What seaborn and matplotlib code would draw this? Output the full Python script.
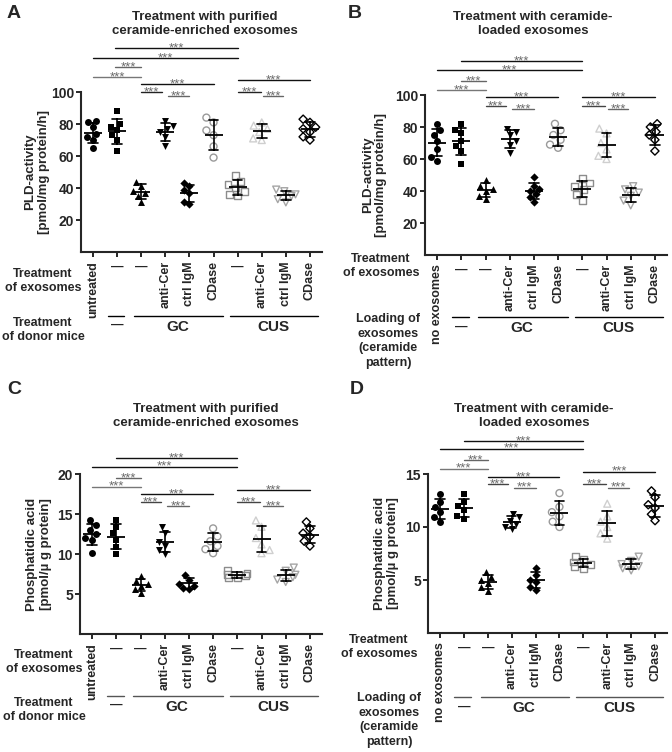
import numpy as np
import pandas as pd
import matplotlib
matplotlib.use('Agg')
import matplotlib.pyplot as plt
import matplotlib.transforms as mtransforms
import seaborn as sns

sns.set_style('ticks')
plt.rcParams['font.family'] = ['Liberation Sans', 'DejaVu Sans']

# groups in x order: control, control exosomes, GC exosomes (4), CUS exosomes (4)
groups = ['ctrl', 'none_exo', 'GC', 'GC_antiCer', 'GC_IgM', 'GC_CDase',
          'CUS', 'CUS_antiCer', 'CUS_IgM', 'CUS_CDase']
labels_purified = ['untreated', '—', '—', 'anti-Cer', 'ctrl IgM', 'CDase',
                   '—', 'anti-Cer', 'ctrl IgM', 'CDase']
labels_loaded = ['no exosomes', '—', '—', 'anti-Cer', 'ctrl IgM', 'CDase',
                 '—', 'anti-Cer', 'ctrl IgM', 'CDase']

# PLD activity [pmol/mg protein/h], purified exosomes (A)
pld_purified = [
    [82, 81, 78, 74, 72, 70, 65],
    [88, 80, 78, 76, 73, 70, 63],
    [44, 41, 38, 37, 35, 31],
    [82, 79, 77, 75, 72, 66],
    [43, 41, 39, 37, 31, 30],
    [84, 81, 76, 73, 66, 59],
    [48, 44, 42, 40, 38, 36, 35],
    [81, 79, 77, 75, 71, 70],
    [39, 38, 36, 35, 33, 31],
    [83, 81, 78, 77, 75, 72, 70],
]
# PLD activity, ceramide-loaded exosomes (B)
pld_loaded = [
    [82, 78, 75, 71, 66, 61, 59],
    [82, 78, 76, 71, 68, 65, 57],
    [47, 43, 41, 40, 37, 35],
    [79, 77, 75, 71, 69, 64],
    [49, 43, 41, 40, 38, 36, 33],
    [82, 78, 75, 72, 69, 67],
    [48, 45, 43, 41, 38, 34],
    [79, 76, 70, 66, 62, 60],
    [43, 41, 39, 37, 34, 31],
    [82, 80, 77, 75, 72, 65],
]
# phosphatidic acid [pmol/ug protein], purified exosomes (C)
pa_purified = [
    [14.2, 13.6, 13.0, 12.5, 12.0, 11.8, 10.1],
    [14.3, 13.4, 12.6, 11.8, 10.9, 10.0],
    [7.3, 6.6, 6.2, 6.0, 5.6, 5.1],
    [13.4, 12.6, 11.5, 11.0, 10.5, 10.0],
    [7.4, 6.8, 6.3, 6.0, 5.8, 5.6],
    [13.2, 12.2, 11.6, 11.0, 10.6, 10.1],
    [7.9, 7.6, 7.4, 7.3, 7.1, 7.0],
    [14.2, 13.4, 12.0, 11.2, 10.5, 10.1],
    [8.3, 7.9, 7.4, 7.1, 6.8, 6.5],
    [14.0, 13.2, 12.6, 12.2, 11.6, 11.0],
]
# phosphatidic acid, ceramide-loaded exosomes (D)
pa_loaded = [
    [13.1, 12.4, 11.9, 11.4, 10.9, 10.5],
    [13.1, 12.4, 12.0, 11.6, 11.0, 10.8],
    [5.8, 5.3, 5.0, 4.7, 4.3, 4.0],
    [11.2, 10.9, 10.6, 10.3, 10.0, 9.8],
    [6.1, 5.5, 5.0, 4.8, 4.3, 4.1],
    [13.2, 11.9, 11.4, 11.0, 10.5, 10.0],
    [7.2, 6.9, 6.7, 6.5, 6.3, 6.1],
    [12.2, 11.0, 10.5, 10.0, 9.4, 8.9],
    [7.2, 6.8, 6.5, 6.3, 6.1, 5.9],
    [13.4, 12.8, 12.1, 11.8, 11.2, 10.6],
]

# marker styles per group
markers = ['o', 's', '^', 'v', 'D', 'o', 's', '^', 'v', 'D']
hollow = [False] * 5 + [True] * 5
mcolors = ['black'] * 5 + ['#9a9a9a', '#8c8c8c', '#cfcfcf', '#a5a5a5', 'black']
msizes = [5, 5, 5, 5, 4.2, 5, 5, 5, 5, 4.2]

# significance bars: (x1, x2, y in data units, line colour)
sig_A = [(0.92, 6, 127.5, '#111'), (0, 6, 121, '#111'), (0.92, 2, 115.6, '#666'),
         (0, 2, 109.4, '#777'), (2, 5, 105, '#111'), (2, 2.85, 100, '#222'),
         (3.1, 4, 97.5, '#666'), (6, 9, 107.5, '#111'), (6, 6.95, 100, '#222'),
         (7.05, 7.9, 97.5, '#666')]
sig_B = [(1, 6, 121, '#111'), (0, 6, 115.6, '#111'), (1, 2, 108.7, '#666'),
         (0, 2, 103, '#777'), (2, 5, 98.7, '#111'), (2, 2.85, 93, '#444'),
         (3.1, 4, 91, '#666'), (6, 9, 98.7, '#111'), (6, 6.95, 93, '#444'),
         (7.05, 7.9, 91, '#666')]
sig_C = [(1, 6, 22, '#111'), (0, 6, 20.9, '#111'), (1, 2, 19.5, '#666'),
         (0, 2, 18.4, '#777'), (2, 5, 17.5, '#111'), (2, 2.85, 16.5, '#444'),
         (3.1, 4, 16, '#666'), (6, 9, 18, '#111'), (6, 6.95, 16.5, '#444'),
         (7.05, 7.9, 16, '#666')]
sig_D = [(1, 6, 18.1, '#111'), (0, 6, 17.4, '#111'), (1, 2, 16.3, '#666'),
         (0, 2, 15.5, '#777'), (2, 5, 14.7, '#111'), (2, 2.85, 14.05, '#444'),
         (3.1, 4, 13.7, '#666'), (6, 9, 15.2, '#111'), (6, 6.95, 14.05, '#444'),
         (7.05, 7.9, 13.7, '#666')]

W, H = 672, 752
fig = plt.figure(figsize=(W / 100, H / 100), dpi=100)


def fx(p):
    return p / W


def fy(p):
    return 1 - p / H


def draw_panel(rect, values, ylim, yticks, ylabel, label_x, ticklabels, sig):
    ax = fig.add_axes([fx(rect[0]), fy(rect[3]), fx(rect[1] - rect[0]), (rect[3] - rect[2]) / H])
    df = pd.DataFrame({'group': np.repeat(groups, [len(v) for v in values]),
                       'value': np.concatenate(values)})
    for i, g in enumerate(groups):
        n_before = len(ax.collections)
        sns.swarmplot(data=df[df['group'] == g], x='group', y='value', order=groups,
                      marker=markers[i], size=msizes[i], color=mcolors[i],
                      linewidth=0, ax=ax, zorder=2)
        if hollow[i]:
            for coll in ax.collections[n_before:]:
                coll.set_facecolor('none')
                coll.set_edgecolor(mcolors[i])
                coll.set_linewidth(1.0)
    sns.pointplot(data=df, x='group', y='value', order=groups, errorbar='sd',
                  capsize=0.4, color='black', marker='_', markersize=13,
                  markeredgewidth=1.3, linestyle='none',
                  err_kws={'linewidth': 1.2}, ax=ax, zorder=3)

    for x1, x2, y, c in sig:
        ax.plot([x1, x2], [y, y], color=c, lw=1, clip_on=False)
        ax.text((x1 + x2) / 2, y, '***', ha='center', va='center', fontsize=9.5,
                color='#6a6a6a', clip_on=False)

    ax.set_xlim(-0.5, 9.5)
    ax.set_ylim(*ylim)
    ax.set_yticks(yticks)
    ax.set_ylabel(ylabel, fontsize=9.5, fontweight='bold', linespacing=1.2)
    ax.yaxis.set_label_coords(label_x, 0.5)
    ax.set_xlabel('')
    ax.set_xticks(range(len(groups)))
    ax.set_xticklabels(ticklabels, rotation=90, fontsize=9, fontweight='bold')
    for t in ax.get_xticklabels():
        if t.get_text() == '—':
            t.set_rotation(0)
    for t in ax.get_yticklabels():
        t.set_fontweight('bold')
        t.set_fontsize(10)
    ax.tick_params(width=1.4, length=3.5, pad=1.5)
    ax.tick_params(axis='x', pad=3)
    for s in ['left', 'bottom']:
        ax.spines[s].set_linewidth(1.5)
    sns.despine(ax=ax)
    return ax


def group_rows(ax, y_line, y_text, y_dash, color):
    tr = mtransforms.blended_transform_factory(ax.transData, fig.transFigure)
    for x1, x2 in [(0.6, 1.3), (1.7, 5.4), (5.7, 9.35)]:
        ax.plot([x1, x2], [fy(y_line)] * 2, color=color, lw=1, transform=tr, clip_on=False)
    ax.text(1, fy(y_dash), '—', ha='center', va='center', fontsize=9,
            fontweight='bold', transform=tr)
    ax.text(3.5, fy(y_text), 'GC', ha='center', va='center', fontsize=11,
            fontweight='bold', transform=tr)
    ax.text(7.5, fy(y_text), 'CUS', ha='center', va='center', fontsize=11,
            fontweight='bold', transform=tr)


def ftext(x, y, s, **kw):
    fig.text(fx(x), fy(y), s, ha='center', va='center', fontweight='bold',
             multialignment='center', **kw)


# A
axA = draw_panel((81, 322, 92, 252), pld_purified, (0, 100), [20, 40, 60, 80, 100],
                 'PLD-activity\n[pmol/mg protein/h]', -0.13, labels_purified, sig_A)
group_rows(axA, 316, 327, 325, 'black')
ftext(43, 281, 'Treatment\nof exosomes', fontsize=9, linespacing=1.25)
ftext(43, 330, 'Treatment\nof donor mice', fontsize=9, linespacing=1.25)
ftext(205, 24, 'Treatment with purified\nceramide-enriched exosomes', fontsize=9.5, linespacing=1.25)

# B
axB = draw_panel((425, 667, 95, 255), pld_loaded, (0, 100), [20, 40, 60, 80, 100],
                 'PLD-activity\n[pmol/mg protein/h]', -0.155, labels_loaded, sig_B)
group_rows(axB, 317, 328, 327, 'black')
ftext(381, 266, 'Treatment\nof exosomes', fontsize=9, linespacing=1.25)
ftext(388, 341, 'Loading of\nexosomes\n(ceramide\npattern)', fontsize=9, linespacing=1.3)
ftext(533, 24, 'Treatment with ceramide-\nloaded exosomes', fontsize=9.5, linespacing=1.25)

# C
axC = draw_panel((80, 322, 474, 634), pa_purified, (0, 20), [5, 10, 15, 20],
                 'Phosphatidic acid\n[pmol/µ g protein]', -0.115, labels_purified, sig_C)
group_rows(axC, 696, 707, 705, '#555')
ftext(44, 662, 'Treatment\nof exosomes', fontsize=9, linespacing=1.25)
ftext(44, 710, 'Treatment\nof donor mice', fontsize=9, linespacing=1.25)
ftext(206, 416, 'Treatment with purified\nceramide-enriched exosomes', fontsize=9.5, linespacing=1.25)

# D
axD = draw_panel((428, 667, 474, 633), pa_loaded, (0, 15), [5, 10, 15],
                 'Phosphatidic acid\n[pmol/µ g protein]', -0.12, labels_loaded, sig_D)
group_rows(axD, 697, 708, 707, '#555')
ftext(379, 647, 'Treatment\nof exosomes', fontsize=9, linespacing=1.25)
ftext(389, 720, 'Loading of\nexosomes\n(ceramide\npattern)', fontsize=9, linespacing=1.3)
ftext(534, 416, 'Treatment with ceramide-\nloaded exosomes', fontsize=9.5, linespacing=1.25)

# panel letters
for x, y, s in [(14, 13, 'A'), (355, 13, 'B'), (14, 390, 'C'), (357, 390, 'D')]:
    ftext(x, y, s, fontsize=14)

fig.savefig('out.png', dpi=100)
